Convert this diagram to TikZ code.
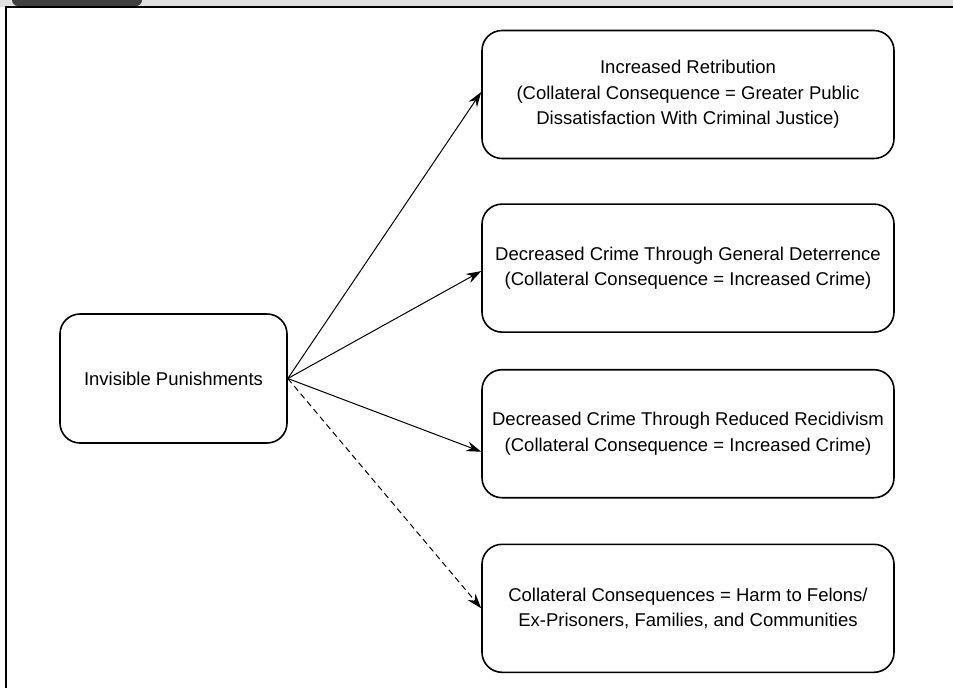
\documentclass[tikz,border=0pt]{standalone}
\usepackage{fontspec}
\setmainfont{Liberation Sans}
\usetikzlibrary{positioning,arrows.meta}

\begin{document}
\begin{tikzpicture}[x=0.5pt, y=-0.5pt, font=\fontsize{9.25}{12.8}\selectfont,
  src/.style={draw, rounded corners=10pt, line width=0.8pt, minimum width=113.5pt, minimum height=64.5pt, inner sep=0pt},
  box/.style={draw, rounded corners=10pt, line width=0.8pt, align=center, minimum width=206pt, minimum height=64pt, inner sep=0pt},
  arr/.style={-{Stealth[length=7.5pt, width=5pt, inset=2.5pt]}, line width=0.5pt},
  darr/.style={arr, dash pattern=on 3pt off 2pt}]
\useasboundingbox (0,0) rectangle (953,687);
% page frame and tab
\fill[black!12] (0,0) rectangle (953,7);
\fill[black!75, rounded corners=3pt] (12,-12) rectangle (142,6);
\draw[line width=0.8pt] (6,700) -- (6,7) -- (953,7);
% nodes
\node[src] (inv) at (173.5,378.5) {Invisible Punishments};
\node[box] (ret) at (688,94.5) {Increased Retribution\\(Collateral Consequence = Greater Public\\Dissatisfaction With Criminal Justice)};
\node[box, below=22pt of ret] (det) {Decreased Crime Through General Deterrence\\(Collateral Consequence = Increased Crime)};
\node[box, below=18pt of det] (rec) {Decreased Crime Through Reduced Recidivism\\(Collateral Consequence = Increased Crime)};
\node[box, below=22.5pt of rec] (harm) {Collateral Consequences = Harm to Felons/\\Ex-Prisoners, Families, and Communities};
% connectors
\draw[arr] (inv.east) -- ([yshift=1.25pt]ret.west);
\draw[arr] (inv.east) -- ([yshift=-1.5pt]det.west);
\draw[arr] (inv.east) -- ([yshift=-9pt]rec.west);
\draw[darr] (inv.east) -- (harm.west);
\end{tikzpicture}
\end{document}
